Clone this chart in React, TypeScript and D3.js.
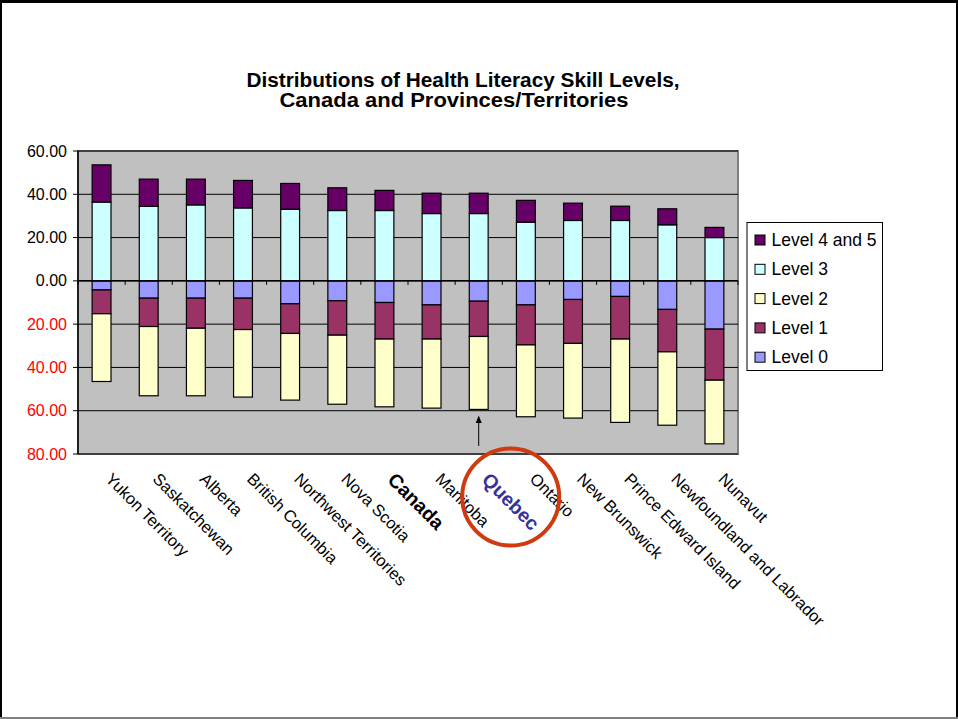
import React from "react";
import * as d3 from "d3";

const categories = [
  "Yukon Territory",
  "Saskatchewan",
  "Alberta",
  "British Columbia",
  "Northwest Territories",
  "Nova Scotia",
  "Canada",
  "Manitoba",
  "Quebec",
  "Ontario",
  "New Brunswick",
  "Prince Edward Island",
  "Newfoundland and Labrador",
  "Nunavut",
];

const level0 = [4.2, 8.0, 8.0, 8.0, 10.6, 9.2, 10.0, 11.1, 9.4, 11.1, 8.6, 7.2, 13.2, 22.3];
const level1 = [11.0, 13.1, 13.9, 14.5, 13.7, 15.9, 16.9, 15.8, 16.3, 18.5, 20.3, 19.7, 19.6, 23.6];
const level2 = [31.3, 32.0, 31.2, 31.2, 30.8, 31.9, 31.3, 31.9, 33.7, 33.2, 34.5, 38.5, 33.9, 29.4];
const level3 = [36.4, 34.4, 35.1, 33.7, 33.1, 32.5, 32.5, 31.1, 31.1, 27.1, 27.9, 27.9, 25.9, 20.0];
const level45 = [17.2, 12.6, 11.9, 12.7, 11.9, 10.5, 9.3, 9.4, 9.4, 10.1, 8.0, 6.6, 7.4, 4.7];

const yTicks = [60, 40, 20, 0, -20, -40, -60, -80];

const seriesKeys = ["L0", "L1", "L2", "L3", "L45"];
const seriesNames: Record<string, string> = {
  L45: "Level 4 and 5",
  L3: "Level 3",
  L2: "Level 2",
  L1: "Level 1",
  L0: "Level 0",
};
const seriesColors: Record<string, string> = {
  L45: "#660066",
  L3: "#CCFFFF",
  L2: "#FFFFCC",
  L1: "#993366",
  L0: "#9999FF",
};
const legendOrder = ["L45", "L3", "L2", "L1", "L0"];

const titleLines = [
  "Distributions of Health Literacy Skill Levels,",
  "Canada and Provinces/Territories",
];

const FONT = "'Liberation Sans', Arial, Helvetica, sans-serif";

export default function App() {
  const W = 958;
  const H = 719;
  const left = 78;
  const right = 738;
  const top = 151;
  const bottom = 454;

  const table = categories.map((c, i) => ({
    cat: c,
    L0: -level0[i],
    L1: -level1[i],
    L2: -level2[i],
    L3: level3[i],
    L45: level45[i],
  }));

  const stack = d3
    .stack<any>()
    .keys(seriesKeys)
    .offset(d3.stackOffsetDiverging);
  const series = stack(table);

  const x = d3
    .scaleBand<string>()
    .domain(categories)
    .range([left, right])
    .paddingInner(0.6)
    .paddingOuter(0.3);
  const y = d3.scaleLinear().domain([-80, 60]).range([bottom, top]);

  const step = x.step();
  const boundaries = d3.range(categories.length + 1).map((i) => left + i * step);

  const qx = (x("Quebec") as number) + x.bandwidth() / 2;

  return (
    <svg
      width={W}
      height={H}
      style={{ position: "absolute", left: 0, top: 0, background: "#fff" }}
      fontFamily={FONT}
    >
      {/* frame */}
      <rect x={0} y={0} width={W} height={H} fill="#fff" />
      <rect x={0} y={0} width={W} height={3} fill="#000" />
      <rect x={0} y={0} width={2} height={H} fill="#000" />
      <rect x={W - 2} y={0} width={2} height={H} fill="#000" />
      <rect x={0} y={H - 2} width={W} height={2} fill="#808080" />

      {/* title */}
      <text
        x={463}
        y={87}
        textAnchor="middle"
        fontSize={20}
        fontWeight="bold"
        textLength={433}
        lengthAdjust="spacingAndGlyphs"
      >
        {titleLines[0]}
      </text>
      <text
        x={454}
        y={107}
        textAnchor="middle"
        fontSize={20}
        fontWeight="bold"
        textLength={349}
        lengthAdjust="spacingAndGlyphs"
      >
        {titleLines[1]}
      </text>

      {/* plot area */}
      <rect x={left} y={top} width={right - left} height={bottom - top} fill="#C0C0C0" stroke="#808080" strokeWidth={2} />

      {/* gridlines */}
      {yTicks.map((t) => (
        <line key={"g" + t} x1={left} x2={right} y1={y(t)} y2={y(t)} stroke="#000" strokeWidth={1} />
      ))}

      {/* y axis */}
      <line x1={left} x2={left} y1={top} y2={bottom} stroke="#000" strokeWidth={1.5} />
      {yTicks.map((t) => (
        <g key={"t" + t}>
          <line x1={left - 5} x2={left} y1={y(t)} y2={y(t)} stroke="#000" strokeWidth={1} />
          <text
            x={67}
            y={y(t) + 5.5}
            textAnchor="end"
            fontSize={16}
            fill={t < 0 ? "#FF0000" : "#000"}
          >
            {Math.abs(t).toFixed(2)}
          </text>
        </g>
      ))}

      {/* bars */}
      {series.map((s) => (
        <g key={s.key} fill={seriesColors[s.key]} stroke="#000" strokeWidth={1.2}>
          {s.map((d, i) => (
            <rect
              key={i}
              x={x(categories[i]) as number}
              width={x.bandwidth()}
              y={y(Math.max(d[0], d[1]))}
              height={Math.abs(y(d[0]) - y(d[1]))}
            />
          ))}
        </g>
      ))}

      {/* zero axis with ticks */}
      <line x1={left} x2={right} y1={y(0)} y2={y(0)} stroke="#000" strokeWidth={1.5} />
      {boundaries.map((b, i) => (
        <line key={"b" + i} x1={b} x2={b} y1={y(0)} y2={y(0) + 4} stroke="#000" strokeWidth={1} />
      ))}

      {/* category labels */}
      {categories.map((c) => {
        const isCanada = c === "Canada";
        const isQuebec = c === "Quebec";
        const bold = isCanada || isQuebec;
        const cx = (x(c) as number) + x.bandwidth() / 2 + (bold ? 2 : 3);
        return (
          <text
            key={c}
            transform={`translate(${cx},${bold ? 481 : 480}) rotate(45)`}
            fontSize={bold ? 19.5 : 16.5}
            fontWeight={bold ? "bold" : "normal"}
            fill={isQuebec ? "#333399" : "#000"}
          >
            {c}
          </text>
        );
      })}

      {/* arrow to Quebec */}
      <line x1={qx} x2={qx} y1={446} y2={421} stroke="#000" strokeWidth={1} />
      <path d={`M${qx},415.5 L${qx - 3},423 L${qx + 3},423 Z`} fill="#000" />

      {/* circle annotation */}
      <circle cx={qx + 32} cy={497} r={48.5} fill="none" stroke="#D03A10" strokeWidth={4} />

      {/* legend */}
      <rect x={747} y={222.5} width={135.5} height={148} fill="#fff" stroke="#000" strokeWidth={1} />
      {legendOrder.map((k, i) => {
        const cy = 240 + i * 29.3;
        return (
          <g key={"l" + k}>
            <rect x={755} y={cy - 5} width={10} height={10} fill={seriesColors[k]} stroke="#000" strokeWidth={1} />
            <text x={771.5} y={cy + 6} fontSize={17.5} fill="#000">
              {seriesNames[k]}
            </text>
          </g>
        );
      })}
    </svg>
  );
}
